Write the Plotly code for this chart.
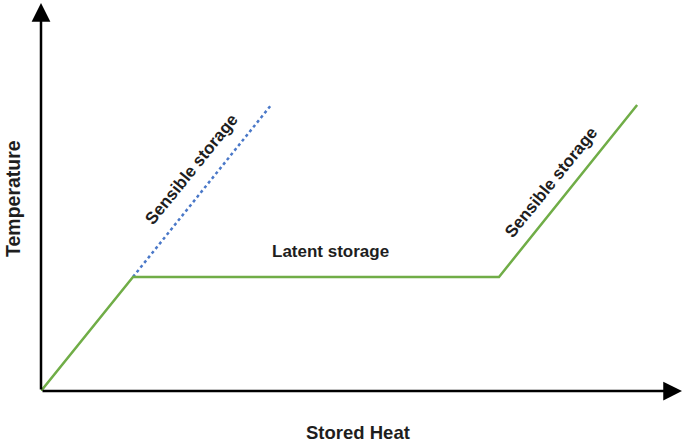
import plotly.graph_objects as go

# Data (abstract units: stored heat vs temperature)
heat_phase = [0.0, 1.435, 7.145, 9.30]
temp_phase = [0.0, 2.94, 2.94, 7.37]
heat_sensible = [1.435, 3.59]
temp_sensible = [2.94, 7.37]

x_max = 10.0
y_max = 10.0

labels = ["Sensible storage", "Latent storage", "Sensible storage"]
label_x = [2.35, 4.51, 7.955]
label_y = [5.70, 3.60, 5.38]
label_angle = [-51, 0, -51]

FONT = "Arial, 'Liberation Sans', sans-serif"
TXT = "#1e1e1e"

fig = go.Figure()
fig.add_trace(go.Scatter(x=heat_sensible, y=temp_sensible, mode="lines",
                         line=dict(color="#4a78c8", width=2.5, dash="dot"),
                         cliponaxis=False, hoverinfo="skip"))
fig.add_trace(go.Scatter(x=heat_phase, y=temp_phase, mode="lines",
                         line=dict(color="#70ad47", width=2.5),
                         cliponaxis=False, hoverinfo="skip"))

# axis arrows
fig.add_annotation(x=x_max, y=0, ax=0, ay=0, xref="x", yref="y", axref="x", ayref="y",
                   showarrow=True, arrowhead=2, arrowsize=1.5, arrowwidth=2.5,
                   arrowcolor="black", text="")
fig.add_annotation(x=0, y=y_max, ax=0, ay=0, xref="x", yref="y", axref="x", ayref="y",
                   showarrow=True, arrowhead=2, arrowsize=1.5, arrowwidth=2.5,
                   arrowcolor="black", text="")

for t, x, y, a in zip(labels, label_x, label_y, label_angle):
    fig.add_annotation(x=x, y=y, xref="x", yref="y", text=t, showarrow=False,
                       textangle=a, xanchor="center", yanchor="middle",
                       font=dict(family=FONT, size=17, color=TXT, weight="bold"))

fig.add_annotation(x=(358 - 41) / 641, y=(391 - 432) / 388, xref="paper", yref="paper",
                   text="Stored Heat", showarrow=False, xanchor="center", yanchor="middle",
                   font=dict(family=FONT, size=18.5, color=TXT, weight="bold"))
fig.add_annotation(x=(13 - 41) / 641, y=(391 - 199) / 388, xref="paper", yref="paper",
                   text="Temperature", showarrow=False, textangle=-90,
                   xanchor="center", yanchor="middle",
                   font=dict(family=FONT, size=19.5, color=TXT, weight="bold"))

fig.update_layout(
    width=685, height=444,
    margin=dict(l=41, r=3, t=3, b=53),
    paper_bgcolor="white", plot_bgcolor="white",
    showlegend=False,
    xaxis=dict(range=[0, x_max], visible=False, fixedrange=True),
    yaxis=dict(range=[0, y_max], visible=False, fixedrange=True),
)

fig.write_html("out.html", config={"displayModeBar": False},
               post_script="document.body.style.margin='0';")
